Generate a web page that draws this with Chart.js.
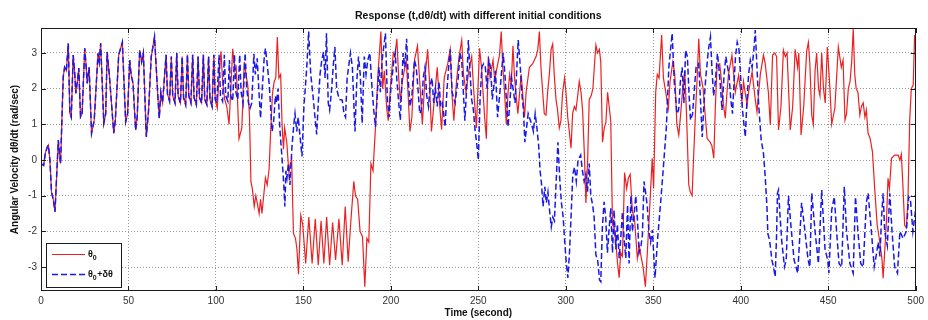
<!DOCTYPE html>
<html>
<head>
<meta charset="utf-8">
<script src="https://cdn.jsdelivr.net/npm/chart.js@4/dist/chart.umd.min.js"></script>
<style>
  html, body { margin: 0; padding: 0; background: #fff; }
  canvas { display: block; }
</style>
</head>
<body>
<canvas id="c" width="928" height="320"></canvas>
<script>
// Angular velocity dθ/dt (rad/s) against time (s), as [t, ω] turning points.
// Both runs coincide until about t = 100 s, so they share the first stretch.
const sharedRun = [
  [0,-0.1],[1.5,-0.15],[2.5,0.2],[3.5,0.35],[4.2,0.42],[5.1,0.0],[6,-0.9],[7,-1.1],[8,-1.45],[8.8,-0.6],
  [9.9,0.56],[10.5,0.2],[11.2,-0.1],[12,1.2],[12.7,2.33],[13.5,2.6],[14.5,2.5],[15.6,3.27],[16.5,1.31],[17.3,1.2],
  [18.4,2.94],[19.2,2.5],[19.9,1.87],[20.8,2.2],[21.6,2.58],[22.6,1.21],[23.5,1.3],[25,3.13],[25.7,2.7],[26.4,2.15],
  [27.5,2.6],[28.9,0.75],[30.4,1.1],[32.6,2.99],[33.3,2.75],[34.1,3.27],[35.9,1.03],[37,1.3],[37.8,3.03],[39,2.42],
  [41.6,0.75],[42.5,1.12],[44.4,2.94],[46.5,3.3],[48.4,1.07],[49.5,1.3],[50.7,2.8],[51.5,2.4],[52.6,2.15],[54.1,0.84],
  [55,1.2],[56.4,3.08],[57.5,2.75],[58.5,3.0],[60.2,0.65],[61.5,1.4],[63,2.89],[64.9,3.45],[66.8,1.78],[67.6,1.17],
  [68.5,1.9],[69.5,1.6],[71.5,2.95],[72.3,1.85],[73.5,1.65],[74.5,2.9],[75.3,1.8],[76.6,1.6],[77.6,3.0],[78.4,1.8],
  [79.7,1.6],[80.7,2.9],[81.5,1.75],[82.7,1.55],[83.7,2.95],[84.5,1.8],[85.7,1.6],[86.7,2.95],[87.5,1.75],[88.8,1.55],
  [89.8,2.9],[90.6,1.75],[91.8,1.6],[92.8,2.95],[93.6,1.7],[94.8,1.55],[95.8,2.9],[96.6,1.7],[97.8,1.5],[98.8,2.95],
  [99.6,1.7]
];

// θ0 run after the split
const runTheta0 = [
  [100.8,1.45],[101.8,2.4],[102.9,3.05],[103.8,2.2],[105,1.7],[106.2,1.5],[107.5,1.0],[108.5,2.0],[109.6,3.12],[110.8,2.5],
  [111.6,2.6],[113.2,0.6],[114.8,0.9],[116.2,2.75],[117.2,2.4],[118.2,2.1],[119.2,1.2],[120,-0.6],[120.8,-0.8],[121.9,-1.3],
  [122.8,-1.0],[123.6,-1.2],[124.7,-1.5],[125.5,-1.1],[126.3,-1.5],[127.3,-1.0],[128.3,-0.5],[129.3,-0.7],[130.4,-0.25],[131.2,0.7],
  [132.3,1.85],[133.3,2.2],[134.2,2.3],[135.1,3.45],[136,2.3],[137,2.4],[137.8,1.0],[138.6,0.3],[139.3,0.9],[140.5,0.5],
  [141.7,-0.35],[142.5,-0.1],[143.3,0.0],[144.3,-2.05],[145.5,-2.2],[146.3,-2.5],[147.2,-3.2],[148.5,-1.55],[149.6,-1.8],[151.3,-2.9],
  [153.1,-1.6],[155,-2.9],[156.8,-1.65],[158.5,-2.95],[160.1,-1.7],[161.7,-2.9],[163.3,-1.6],[165,-2.95],[166.7,-1.75],[168.4,-2.8],
  [170.3,-1.65],[172.2,-2.95],[173.9,-1.3],[175.6,-2.85],[177,-1.8],[178.8,-0.6],[179.8,-1.0],[181,-1.1],[182.4,-2.0],[183.8,-2.15],
  [185.1,-3.55],[186.3,-2.2],[187.4,-2.3],[188.6,-0.1],[189.8,-0.3],[191.3,1.0],[192.6,2.4],[194.3,3.6],[195.3,2.0],[196.3,2.5],
  [197.6,1.45],[198.5,1.1],[200,2.2],[201.4,3.0],[202.3,2.9],[203.4,3.4],[204.5,2.3],[205.5,1.6],[206.5,2.2],[208.8,2.8],
  [209.7,2.0],[210.9,0.8],[212,1.2],[213.5,2.8],[215.2,3.2],[216.5,2.2],[218,1.0],[219.5,2.3],[221,3.1],[222,2.3],
  [223.2,0.8],[224.5,1.5],[226.5,2.6],[227.8,1.6],[229,0.85],[230.5,2.3],[232.5,2.7],[233.9,3.1],[235,1.8],[236,1.1],
  [237.5,2.2],[239,2.9],[240.5,3.36],[241.5,2.4],[243,1.9],[244.5,2.5],[246.2,2.9],[247.3,2.0],[248.9,0.9],[250.7,3.13],
  [251.8,2.6],[252.7,1.9],[253.6,1.2],[254.6,0.6],[255.7,2.9],[256.7,2.3],[258.4,2.8],[259.4,2.2],[260.3,2.5],[262.1,2.94],
  [263.1,3.6],[264,2.6],[265,1.9],[266,1.0],[267,1.9],[267.9,2.4],[268.8,2.1],[269.8,3.2],[270.7,2.3],[271.6,1.8],
  [272.6,1.3],[274.5,2.4],[276.4,1.2],[277.3,1.9],[279.2,2.6],[281.1,2.7],[283,2.9],[284,3.1],[284.9,3.6],[285.8,2.6],
  [286.8,1.9],[287.7,1.3],[288.7,1.26],[289.6,1.9],[290.6,2.4],[291.6,3.1],[292.5,3.25],[293.4,2.4],[294.4,1.7],[295.3,1.4],
  [296.3,0.9],[297.2,1.1],[298.2,1.9],[299.3,2.3],[300.1,1.9],[301.1,1.2],[302,0.8],[303,0.33],[303.9,1.3],[304.9,1.5],
  [305.8,1.4],[306.8,1.8],[307.7,2.2],[308.7,1.9],[309.6,1.4],[310.6,0.2],[311.5,-1.2],[312.5,0.0],[313.4,1.7],[314.5,1.8],
  [315.5,2.0],[316.3,2.6],[317.2,3.22],[318.2,3.0],[319.2,3.1],[320,2.75],[321,0.5],[322,0.9],[322.9,1.05],[323.9,1.9],
  [324.8,1.5],[325.7,1.1],[326.7,-1.8],[327.6,-1.9],[328.6,-2.3],[329.5,-2.85],[330.5,-3.3],[331.4,-2.6],[332.4,-2.7],[333.6,-0.35],
  [334.8,-0.8],[335.8,-0.5],[336.8,-0.4],[338.1,-1.45],[339.2,-1.6],[340.9,-2.75],[342,-2.4],[343.2,-2.75],[344.2,-3.0],[345.5,-3.55],
  [346.6,-2.6],[347.8,-1.5],[349.4,0.05],[350.2,-0.8],[351.4,1.91],[352.3,2.4],[353.3,2.3],[354.8,3.5],[355.8,2.3],[356.8,2.0],
  [358.6,1.45],[359.6,2.2],[361.2,2.75],[362.3,2.4],[363.5,1.0],[364.6,0.7],[365.5,1.2],[367,2.1],[368,2.5],[369,1.3],
  [370.3,-0.7],[371.2,-0.9],[372.2,-1.0],[373,0.0],[374.1,1.3],[375,2.2],[376,3.4],[377,2.4],[378.5,2.0],[379.8,1.2],
  [380.8,0.6],[382.5,0.5],[383.5,0.4],[384.6,0.05],[385.5,1.5],[386.5,2.66],[388,2.7],[389,2.2],[390,1.6],[391.2,1.17],
  [392,1.8],[393,2.4],[395,2.94],[396.9,1.9],[398.8,2.38],[400.7,1.63],[401.6,2.2],[403.6,1.54],[404.5,1.9],[405.5,2.2],
  [406.5,2.47],[408.3,1.7],[409.3,1.35],[411.2,2.4],[413,2.94],[414,2.7],[415.8,1.9],[416.9,0.98],[418.2,2.94],[419.5,3.0],
  [420.5,2.9],[421.6,0.84],[423,1.5],[424.4,3.08],[425.5,2.9],[426.5,3.0],[428.3,0.84],[429.7,1.5],[431.1,3.1],[432.5,2.6],
  [433.2,3.0],[434.5,0.7],[436,1.5],[437.7,3.05],[438.7,3.3],[439.5,2.7],[440.6,1.26],[441.5,1.0],[442.5,2.5],[443.4,3.0],
  [444.5,2.0],[445.3,1.8],[446.3,3.0],[447.3,2.0],[448.3,1.6],[449.5,3.17],[451,2.0],[452,1.0],[453.8,1.45],[455.8,3.17],
  [457.5,2.6],[458.5,2.8],[459.6,1.12],[460.5,1.3],[461.5,2.0],[462.5,2.2],[463.5,2.8],[464.3,3.68],[465.2,2.4],[466,2.0],
  [467,1.9],[468.1,1.26],[469,1.5],[470,1.6],[471,1.2],[471.8,1.4],[472.8,0.75],[474,0.6],[475.3,0.23],[476.7,-0.89],
  [478,-1.82],[479.5,-2.29],[480.8,-2.8],[481.4,-3.31],[482.5,-2.4],[483.3,-1.7],[484.2,-0.51],[485,-0.8],[486.2,0.05],[488,0.14],
  [490,0.14],[491,0.0],[491.8,0.16],[492.7,-0.7],[493.7,-1.82],[494.7,-1.9],[495.6,-1.1],[496.6,1.12],[497.5,2.0],[498.6,2.1],
  [499.4,3.5],[500,3.3]
];

// θ0+δθ run after the split
const runPerturbed = [
  [100.5,1.6],[101.8,2.95],[102.6,1.8],[103.8,1.65],[104.8,2.95],[105.6,1.8],[106.8,1.65],[107.7,2.8],[108.5,1.8],[109.6,1.65],
  [110.6,2.95],[111.4,1.9],[112.5,1.7],[113.6,2.95],[114.4,1.9],[115.5,1.6],[116.7,3.0],[117.6,2.0],[118.6,1.6],[119.5,1.45],
  [120.5,1.6],[121.7,2.98],[122.5,2.4],[123.6,2.85],[124.5,2.0],[125.5,1.17],[126.5,2.0],[127.5,2.8],[128.3,3.13],[129.5,2.6],
  [130.5,2.1],[132.1,0.8],[133,1.1],[134,1.8],[134.7,1.6],[135.5,2.0],[136.5,0.9],[137.8,0.05],[138.8,-0.7],[139.4,-1.3],
  [140,-0.3],[140.6,-0.5],[141.4,-0.1],[142.3,-0.7],[143.5,0.4],[144.5,0.98],[145.2,1.3],[146.2,0.8],[147,1.2],[148,0.7],
  [149.2,0.1],[150.3,1.5],[151.2,2.1],[152,2.66],[153,3.6],[154.2,2.4],[155.5,1.8],[157,1.0],[157.6,0.72],[158.5,1.6],
  [159.5,2.4],[160.5,2.8],[161.5,3.03],[162.4,2.3],[163.2,3.55],[164.2,1.6],[165,1.4],[166,1.9],[167,2.6],[168,3.17],
  [169,2.0],[170.5,1.7],[172.2,1.68],[173.2,1.3],[174.1,1.2],[175,2.3],[176.9,3.0],[178,2.6],[179.5,0.8],[180.5,2.2],
  [181.5,2.9],[182.5,2.4],[183.6,1.03],[184.8,2.9],[185.8,2.4],[186.8,2.8],[188,3.0],[189,2.2],[190.2,1.4],[191.2,0.93],
  [192.2,1.8],[193.2,2.6],[194,1.9],[195,2.8],[196.9,3.55],[198,1.7],[199,1.2],[200,2.0],[201.5,2.7],[202.5,3.0],
  [203.5,2.2],[204.5,1.6],[205.4,1.12],[207,3.0],[208,2.6],[209,3.4],[210,2.2],[211,1.5],[212,1.8],[213.5,2.8],
  [214.5,2.6],[215.5,2.0],[216.5,1.3],[217.5,1.4],[218.5,2.3],[219.5,2.6],[220.5,1.8],[221.5,1.5],[222.5,2.1],[223.5,2.3],
  [224.5,1.6],[225.5,2.0],[226.5,1.5],[227.5,2.2],[228.5,1.5],[229.5,1.6],[231,0.93],[232,1.9],[233,2.6],[234,3.1],
  [235,1.9],[236.7,1.6],[238.5,2.3],[239.5,3.0],[240.5,2.8],[242.3,1.1],[243.2,1.9],[244.3,3.36],[245.2,2.5],[246.2,1.7],
  [247.2,1.4],[248.1,0.85],[249,0.5],[250,0.0],[251,1.7],[252,2.6],[253,2.7],[254,2.6],[255,2.0],[256,2.8],
  [257,2.6],[258,1.7],[259.8,2.5],[261,1.2],[262.5,2.0],[264.2,3.0],[265.2,2.4],[267,0.93],[269,2.3],[271,1.6],
  [272.8,3.36],[274,2.6],[275,1.8],[275.8,1.4],[276.6,0.5],[278.5,1.3],[280.5,1.0],[281.5,0.8],[282.5,1.3],[283.5,0.9],
  [284.5,0.4],[285.3,-0.3],[286.1,-0.65],[287,-1.3],[288,-0.75],[288.9,-1.2],[289.8,-0.9],[290.7,-1.4],[291.7,-1.87],[292.6,-1.6],
  [293.5,-1.7],[294.5,-0.6],[295.5,0.5],[296.5,-0.5],[297.5,-1.2],[298.5,-1.6],[299.4,-2.3],[300.3,-2.9],[301.2,-3.3],[302.1,-2.6],
  [303,-1.6],[304,-0.4],[305,-0.2],[306,-0.6],[307,0.0],[308.5,0.14],[309.5,-0.3],[310.5,-0.6],[311.5,-0.4],[312.4,-0.89],
  [313.4,-0.1],[314.3,-1.0],[315.3,-1.25],[316.2,-1.6],[317.2,-2.66],[318.2,-2.8],[319.3,-3.36],[320,-3.41],[320.9,-1.9],[321.9,-1.17],
  [322.8,-1.6],[323.8,-2.6],[324.8,-1.9],[325.7,-1.35],[326.7,-2.6],[327.6,-1.4],[328.6,-2.5],[329.5,-1.8],[330.5,-2.75],[331.4,-2.2],
  [332.4,-1.45],[333.3,-2.2],[334.3,-2.75],[335.3,-1.26],[336.2,-2.9],[337.2,-1.0],[338.1,-2.0],[339.1,-1.5],[340,-1.0],[341,-1.7],
  [341.9,-2.6],[343,-2.4],[343.8,-2.1],[344.7,-0.6],[345.6,-0.9],[346.6,-1.3],[347.5,-2.0],[348.5,-2.3],[349.5,-1.96],[351,-3.3],
  [352.5,-2.2],[354.2,-1.2],[356.1,0.0],[357.5,0.93],[358.9,2.6],[360.8,3.55],[362,2.2],[363.5,1.3],[364.5,1.4],[365.5,2.2],
  [366.5,2.6],[367.5,1.6],[368.5,3.08],[369.5,2.9],[370.5,1.8],[371.3,1.12],[372.5,1.3],[373.5,2.0],[374.5,2.6],[376,2.7],
  [378,0.65],[379,1.6],[380,2.3],[381.5,3.08],[382.7,3.45],[383.5,2.6],[384.5,1.8],[385.5,2.2],[386.7,2.99],[387.5,2.6],
  [388.5,2.0],[389.3,1.4],[390.5,2.4],[391.5,2.9],[392.5,2.6],[393.3,2.4],[394.3,1.7],[395.3,1.3],[396,2.0],[397,2.9],
  [398,3.3],[399,3.1],[400,2.3],[401,1.4],[402.6,0.65],[403.5,1.6],[404.5,2.4],[405.5,2.8],[406.5,2.6],[407.5,3.08],
  [408.3,3.64],[409.3,2.6],[410.2,1.6],[411.2,0.9],[411.7,0.56],[413,0.19],[414,-0.47],[415,-1.32],[415.5,-2.06],[416.5,-2.24],
  [417.8,-2.8],[418.7,-2.99],[419.7,-3.27],[420.5,-2.1],[421,-0.93],[421.6,-0.84],[422.5,-1.6],[423.5,-2.3],[425,-2.99],[426,-2.8],
  [427.3,-1.0],[428.8,-1.9],[430.5,-2.8],[432.6,-3.17],[433.8,-2.1],[434.8,-1.2],[436.5,-1.9],[438.5,-2.8],[439.5,-3.0],[440.6,-0.93],
  [442.5,-2.0],[444.4,-2.9],[446.3,-0.84],[448.2,-2.5],[449.7,-2.8],[450.4,-3.17],[452,-1.4],[453.5,-1.03],[454.8,-2.0],[456.2,-2.9],
  [457.7,-3.0],[459.2,-0.75],[460.5,-2.0],[462.4,-2.9],[464.3,-3.17],[465.6,-1.03],[467,-2.0],[468.6,-2.9],[470,-3.0],[471.8,-1.2],
  [472.8,-0.93],[474.7,-2.0],[476.3,-2.99],[477.7,-2.6],[478.6,-2.3],[479.6,-2.7],[480.5,-1.6],[481.4,-0.93],[482.3,-2.0],[483.8,-2.4],
  [485.2,-0.93],[486.5,-2.0],[488,-2.99],[489.6,-3.17],[491,-2.0],[492.8,-2.2],[494.7,-2.0],[496,-1.03],[497,-1.1],[498.4,-2.0],
  [499.7,-1.5],[500,-1.3]
];

const timeTicks = [0, 50, 100, 150, 200, 250, 300, 350, 400, 450, 500];
const omegaTicks = [-3, -2, -1, 0, 1, 2, 3];
const seriesNames = ['θ0', 'θ0+δθ'];
const chartTitle = 'Response (t,dθ/dt) with different initial conditions';
const xTitle = 'Time (second)';
const yTitle = 'Angular Velocity dθ/dt (rad/sec)';

const RED = 'rgb(236,32,32)';
const BLUE = 'rgb(24,24,232)';
const FONT = "'Liberation Sans', Arial, sans-serif";

const toPoints = arr => arr.map(([t, w]) => ({ x: t, y: w }));

// Frame, inward tick marks, title and the boxed legend
const matlabAxes = {
  id: 'matlabAxes',
  afterDatasetsDraw(chart) {
    const { ctx, chartArea: a, scales: { x, y } } = chart;
    ctx.save();
    // box around the plot
    ctx.strokeStyle = '#1a1a1a';
    ctx.lineWidth = 1;
    ctx.strokeRect(Math.round(a.left) + 0.5, Math.round(a.top) + 0.5,
                   Math.round(a.right - a.left) - 1, Math.round(a.bottom - a.top) - 1);
    // ticks pointing inward on all four sides
    ctx.beginPath();
    timeTicks.forEach(v => {
      const px = Math.round(x.getPixelForValue(v)) + 0.5;
      ctx.moveTo(px, a.bottom); ctx.lineTo(px, a.bottom - 5);
      ctx.moveTo(px, a.top); ctx.lineTo(px, a.top + 5);
    });
    omegaTicks.forEach(v => {
      const py = Math.round(y.getPixelForValue(v)) + 0.5;
      ctx.moveTo(a.left, py); ctx.lineTo(a.left + 5, py);
      ctx.moveTo(a.right, py); ctx.lineTo(a.right - 5, py);
    });
    ctx.stroke();

    // legend box in the lower-left corner
    const bx = a.left + 5, by = a.bottom - 48, bw = 75, bh = 44;
    ctx.fillStyle = '#fff';
    ctx.fillRect(bx, by, bw, bh);
    ctx.strokeStyle = '#1a1a1a';
    ctx.strokeRect(bx + 0.5, by + 0.5, bw, bh);

    const entries = [
      { color: RED, dash: [], width: 1.2, y: by + 11 },
      { color: BLUE, dash: [6, 3], width: 1.5, y: by + 31 }
    ];
    entries.forEach((e, i) => {
      ctx.beginPath();
      ctx.setLineDash(e.dash);
      ctx.strokeStyle = e.color;
      ctx.lineWidth = e.width;
      ctx.moveTo(bx + 6, e.y + 0.5); ctx.lineTo(bx + 39, e.y + 0.5);
      ctx.stroke();
      ctx.setLineDash([]);
      // label with a subscript zero
      const name = seriesNames[i];
      const tx = bx + 42;
      ctx.fillStyle = '#111';
      ctx.textBaseline = 'alphabetic';
      ctx.textAlign = 'left';
      ctx.font = 'bold 9px ' + FONT;
      ctx.fillText(name[0], tx, e.y + 3);
      let cx = tx + ctx.measureText(name[0]).width;
      ctx.font = 'bold 7px ' + FONT;
      ctx.fillText(name[1], cx, e.y + 6);
      cx += ctx.measureText(name[1]).width;
      if (name.length > 2) {
        ctx.font = 'bold 9px ' + FONT;
        ctx.fillText(name.slice(2), cx + 0.5, e.y + 3);
      }
    });

    // chart title, centred on the plot area
    ctx.fillStyle = '#111';
    ctx.font = 'bold 10.5px ' + FONT;
    ctx.textAlign = 'center';
    ctx.textBaseline = 'middle';
    ctx.fillText(chartTitle, (a.left + a.right) / 2, 16);
    ctx.restore();
  }
};

new Chart(document.getElementById('c'), {
  type: 'line',
  data: {
    datasets: [
      {
        label: seriesNames[1],
        data: toPoints(sharedRun.concat(runPerturbed)),
        borderColor: BLUE,
        borderWidth: 1.5,
        borderDash: [6, 3],
        pointRadius: 0,
        tension: 0,
        fill: false,
        order: 0
      },
      {
        label: seriesNames[0],
        data: toPoints(sharedRun.concat(runTheta0)),
        borderColor: RED,
        borderWidth: 1.2,
        pointRadius: 0,
        tension: 0,
        fill: false,
        order: 1
      }
    ]
  },
  options: {
    responsive: false,
    animation: false,
    events: [],
    layout: { padding: { top: 28, right: 9, left: 0, bottom: 0 } },
    plugins: { legend: { display: false }, tooltip: { enabled: false }, title: { display: false } },
    scales: {
      x: {
        type: 'linear',
        min: 0, max: 500,
        afterBuildTicks: s => { s.ticks = timeTicks.map(v => ({ value: v })); },
        afterFit: s => { s.height = 29; },
        grid: { color: '#9a9a9a', lineWidth: 1, drawTicks: false },
        border: { display: false, dash: [1, 2] },
        ticks: { padding: 4, color: '#333', font: { family: FONT, size: 10 }, maxRotation: 0 },
        title: { display: true, text: xTitle, color: '#111',
                 font: { family: FONT, size: 10, weight: 'bold' }, padding: { top: 0, bottom: 1 } }
      },
      y: {
        type: 'linear',
        min: -3.67, max: 3.7,
        afterBuildTicks: s => { s.ticks = omegaTicks.map(v => ({ value: v })); },
        afterFit: s => { s.width = 41; },
        grid: { color: '#9a9a9a', lineWidth: 1, drawTicks: false },
        border: { display: false, dash: [1, 2] },
        ticks: { padding: 4, color: '#333', font: { family: FONT, size: 10 } },
        title: { display: true, text: yTitle, color: '#111',
                 font: { family: FONT, size: 10, weight: 'bold' }, padding: { top: 9, bottom: 0 } }
      }
    }
  },
  plugins: [matlabAxes]
});
</script>
</body>
</html>
